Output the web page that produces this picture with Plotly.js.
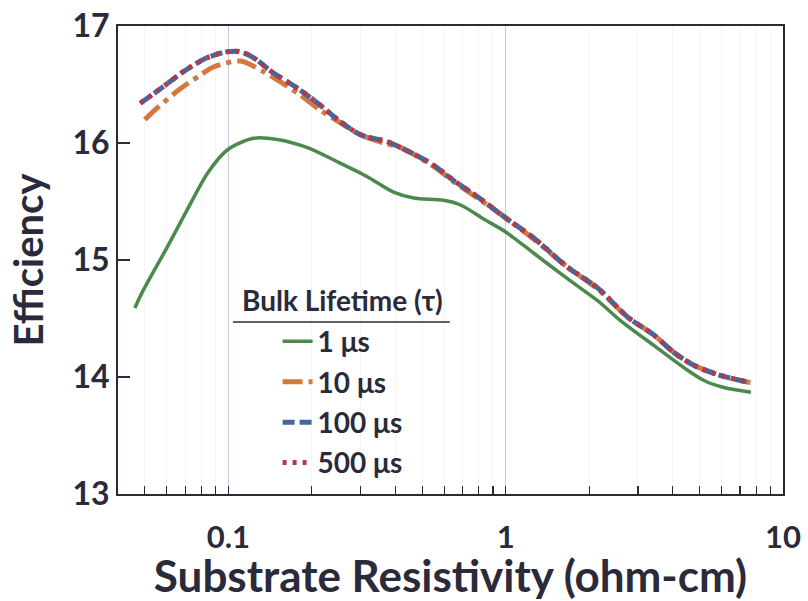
<!DOCTYPE html>
<html>
<head>
<meta charset="utf-8">
<script src="https://cdn.plot.ly/plotly-3.0.1.min.js"></script>
<style>html,body{margin:0;padding:0;background:#fff;}</style>
</head>
<body>
<div id="chart" style="width:808px;height:601px;"></div>
<script>
// ---- data ----
var x1us = [0.046, 0.0493, 0.0602, 0.0711, 0.084, 0.0991, 0.123, 0.150, 0.193, 0.247, 0.318, 0.394, 0.466, 0.597, 0.688, 0.833, 1.0, 1.26, 1.67, 2.15, 2.6, 3.42, 4.39, 5.19, 6.12, 7.66];
var y1us = [14.59, 14.74, 15.11, 15.43, 15.74, 15.94, 16.04, 16.03, 15.96, 15.84, 15.71, 15.58, 15.53, 15.51, 15.47, 15.35, 15.24, 15.06, 14.84, 14.65, 14.48, 14.27, 14.08, 13.97, 13.91, 13.87];

var x10us = [0.050, 0.0554, 0.0660, 0.0792, 0.0883, 0.1105, 0.1337, 0.150, 0.177, 0.215, 0.239, 0.300, 0.363, 0.418, 0.550, 0.649, 0.792, 1.0, 1.26, 1.67, 2.15, 2.76, 3.42, 4.04, 4.77, 5.83, 7.66];
var y10us = [16.20, 16.30, 16.45, 16.58, 16.65, 16.70, 16.61, 16.54, 16.43, 16.28, 16.21, 16.07, 16.00, 15.96, 15.80, 15.67, 15.53, 15.36, 15.18, 14.94, 14.75, 14.51, 14.36, 14.21, 14.10, 14.02, 13.95];

var x100us = [0.0481, 0.0582, 0.0688, 0.0840, 0.0991, 0.1105, 0.123, 0.145, 0.177, 0.210, 0.248, 0.300, 0.375, 0.454, 0.550, 0.649, 0.792, 1.0, 1.26, 1.67, 2.15, 2.76, 3.42, 4.04, 4.77, 5.83, 7.66];
var y100us = [16.34, 16.48, 16.61, 16.73, 16.78, 16.78, 16.73, 16.60, 16.47, 16.34, 16.20, 16.07, 16.01, 15.92, 15.81, 15.68, 15.54, 15.36, 15.19, 14.94, 14.76, 14.51, 14.36, 14.21, 14.10, 14.02, 13.95];

var x500us = [0.0481, 0.0582, 0.0688, 0.0840, 0.0991, 0.1105, 0.123, 0.145, 0.177, 0.210, 0.248, 0.300, 0.375, 0.454, 0.550, 0.649, 0.792, 1.0, 1.26, 1.67, 2.15, 2.76, 3.42, 4.04, 4.77, 5.83, 7.66];
var y500us = [16.34, 16.48, 16.61, 16.73, 16.78, 16.78, 16.73, 16.60, 16.47, 16.34, 16.20, 16.07, 16.01, 15.92, 15.81, 15.68, 15.54, 15.36, 15.19, 14.94, 14.76, 14.51, 14.36, 14.21, 14.10, 14.02, 13.95];

var seriesNames = ['1 μs', '10 μs', '100 μs', '500 μs'];
var xMajorTicks = [0.1, 1, 10];
var xMajorLabels = ['0.1', '1', '10'];
var xMinorTicks = [0.05, 0.06, 0.07, 0.08, 0.09, 0.2, 0.3, 0.4, 0.5, 0.6, 0.7, 0.8, 0.9, 2, 3, 4, 5, 6, 7, 8, 9];
var yTicks = [13, 14, 15, 16, 17];
var xTitle = 'Substrate Resistivity (ohm-cm)';
var yTitle = 'Efficiency';
var legendTitle = 'Bulk Lifetime (τ)';

// ---- styling ----
var FONT = 'Lato, "Open Sans", "DejaVu Sans", sans-serif';
var INK = '#2a2a3a';

function tr(x, y, name, color, width, dash, group) {
  return {
    x: x, y: y, name: name, type: 'scatter', mode: 'lines',
    legendgroup: group,
    line: {color: color, width: width, dash: dash, shape: 'spline', smoothing: 0.8}
  };
}

var data = [
  tr(x1us, y1us, seriesNames[0], '#4b8a4d', 3.5, 'solid', 'g1'),
  tr(x10us, y10us, seriesNames[1], '#d4783e', 5, '20px,6px,5px,6px', 'g2'),
  tr(x100us, y100us, seriesNames[2], '#43689c', 5, '12px,5px', 'g3'),
  tr(x500us, y500us, seriesNames[3], '#b23a4e', 5, '4px,6px', 'g4')
];

var layout = {
  width: 808, height: 601,
  margin: {l: 118, r: 25, t: 26, b: 107},
  paper_bgcolor: '#ffffff', plot_bgcolor: '#ffffff',
  font: {family: FONT, color: INK, size: 28, weight: 700},
  showlegend: true,
  legend: {
    x: 0.24, y: 0.379, xanchor: 'left', yanchor: 'top',
    bgcolor: 'rgba(0,0,0,0)', borderwidth: 0,
    font: {family: FONT, size: 28, color: INK, weight: 700},
    tracegroupgap: 1, itemwidth: 30
  },
  xaxis: {
    type: 'log',
    range: [Math.log10(0.04), 1],
    tickmode: 'array', tickvals: xMajorTicks, ticktext: xMajorLabels,
    ticks: 'inside', ticklen: 8, tickwidth: 1.5, tickcolor: INK,
    tickfont: {family: FONT, size: 31, color: INK, weight: 700},
    ticklabelstandoff: 15,
    showline: true, linecolor: INK, linewidth: 2, mirror: true,
    showgrid: true, gridcolor: '#c8c8e2', gridwidth: 1,
    zeroline: false,
    minor: {tickmode: 'array', tickvals: xMinorTicks, ticks: 'inside', ticklen: 8, tickwidth: 1.2, tickcolor: INK,
            showgrid: true, gridcolor: '#f5f5f8', gridwidth: 1},
    title: {text: xTitle, font: {family: FONT, size: 44, color: INK, weight: 700}, standoff: 5}
  },
  yaxis: {
    range: [13, 17],
    tickmode: 'array', tickvals: yTicks,
    ticks: 'inside', ticklen: 12, tickwidth: 2, tickcolor: INK,
    tickfont: {family: FONT, size: 32, color: INK, weight: 700},
    showline: true, linecolor: INK, linewidth: 2, mirror: true,
    showgrid: false, zeroline: false,
    title: {text: yTitle, font: {family: FONT, size: 40, color: INK, weight: 700}, standoff: 16}
  },
  annotations: [{
    xref: 'paper', yref: 'paper', x: 0.337, y: 0.4145,
    xanchor: 'center', yanchor: 'middle', showarrow: false,
    text: legendTitle,
    font: {family: FONT, size: 28, color: INK, weight: 700}
  }],
  shapes: [{
    type: 'line', xref: 'paper', yref: 'paper',
    x0: 0.173, x1: 0.499, y0: 0.3675, y1: 0.3675,
    line: {color: INK, width: 1.5}
  }]
};

Plotly.newPlot('chart', data, layout, {displayModeBar: false, staticPlot: true});
</script>
</body>
</html>
